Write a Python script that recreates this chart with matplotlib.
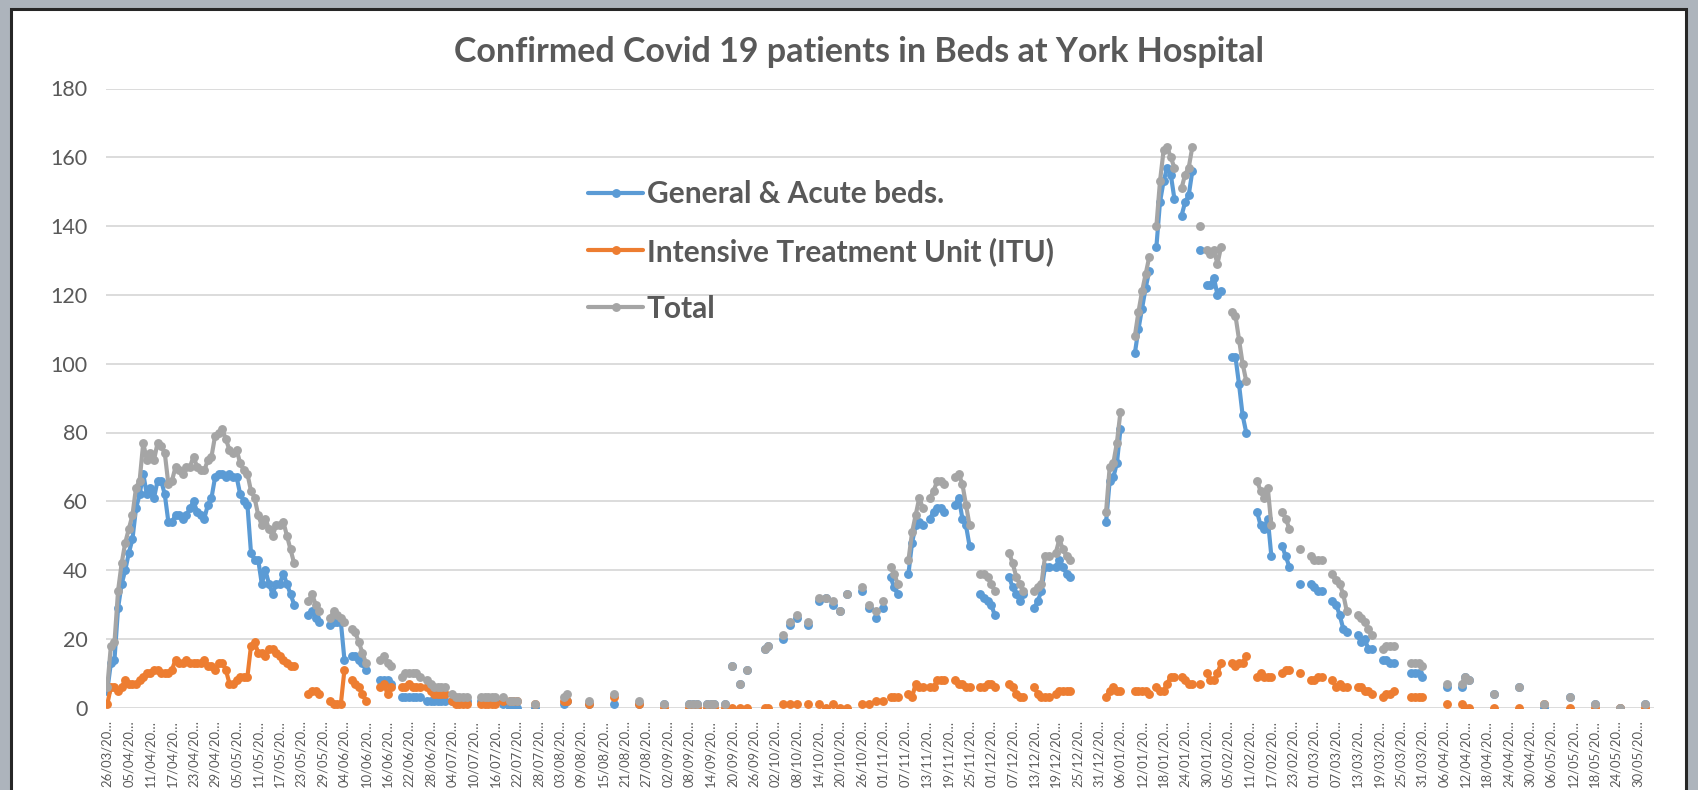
import datetime as dt

import numpy as np
import matplotlib
matplotlib.use("Agg")
import matplotlib.pyplot as plt
from matplotlib.patches import Rectangle

# categories: first row is 26/03/2020, then one row per day from 31/03/2020
N_ROWS = 431
first_row = dt.date(2020, 3, 26)
daily_start = dt.date(2020, 3, 31)

# runs of consecutive readings: (row index, values)
general_runs = [
    (0, [5, 13, 14, 29, 36, 40, 45, 49, 58, 62, 68, 62, 64, 61, 66, 66, 62, 54, 54, 56,
         56, 55, 56, 58, 60, 57, 56, 55, 59, 61, 67, 68, 68, 67, 68, 67, 67, 62, 60, 59,
         45, 43, 43, 36, 40, 36, 33, 36, 36, 39, 36, 33, 30]),
    (56, [27, 28, 26, 25]), (62, [24, 25, 25, 25, 14]), (68, [15, 15, 14, 13, 11]),
    (76, [8, 8, 8, 7]), (82, [3, 3, 3, 3, 3, 3]), (89, [2, 2, 2, 2, 2, 2]),
    (96, [2, 2, 2, 2, 2]), (104, [2, 2, 2, 2, 2]), (110, [1]), (112, [0, 0, 0]),
    (119, [0]), (127, [1, 2]), (134, [1]), (141, [1]), (148, [1]), (155, [1]),
    (162, [1, 1, 1]), (167, [1, 1, 1]), (172, [1]), (174, [12]), (176, [7]), (178, [11]),
    (183, [17, 18]), (188, [20]), (190, [24]), (192, [26]), (195, [24]), (198, [31]),
    (200, [32]), (202, [30]), (204, [28]), (206, [33]), (210, [34]), (212, [29]),
    (214, [26]), (216, [29]),
    (218, [38, 35, 33]), (223, [39, 48, 53, 54, 53]), (229, [55, 57, 58, 58, 57]),
    (236, [59, 61, 55, 53, 47]), (243, [33, 32, 31, 30, 27]), (251, [38, 35, 33, 31, 33]),
    (258, [29, 31, 34, 41, 41]), (264, [41, 43, 41, 39, 38]),
    (278, [54, 66, 67, 71, 81]), (286, [103, 110, 116, 122, 127]),
    (292, [134, 147, 153, 157, 155, 148]), (299, [143, 147, 149, 156]), (304, [133]),
    (306, [123, 123, 125, 120, 121]), (313, [102, 102, 94, 85, 80]),
    (320, [57, 53, 52, 55, 44]), (327, [47, 44, 41]), (332, [36]), (335, [36, 35, 34, 34]),
    (341, [31, 30, 27, 23, 22]), (348, [21, 19, 20, 17, 17]), (355, [14, 14, 13, 13]),
    (363, [10, 10, 10, 9]), (373, [6]), (377, [6, 9, 8]), (386, [4]), (393, [6]),
    (400, [0]), (407, [3]), (414, [1]), (421, [0]), (428, [1]),
]

itu_runs = [
    (0, [1, 6, 6, 5, 6, 8, 7, 7, 7, 8, 9, 10, 10, 11, 11, 10, 10, 10, 11, 14,
         13, 13, 14, 13, 13, 13, 13, 14, 12, 12, 11, 13, 13, 11, 7, 7, 8, 9, 9, 9,
         18, 19, 16, 16, 15, 17, 17, 16, 15, 14, 13, 12, 12]),
    (56, [4, 5, 5, 4]), (62, [2, 1, 1, 1, 11]), (68, [8, 7, 6, 4, 2]),
    (76, [6, 7, 4, 6]), (82, [6, 6, 7, 6, 6, 6]), (89, [6, 5, 4, 4, 4, 4]),
    (96, [2, 1, 1, 1, 1]), (104, [1, 1, 1, 1, 1]), (110, [2]), (112, [2, 2, 2]),
    (119, [1]), (127, [2, 2]), (134, [1]), (141, [3]), (148, [1]), (155, [0]),
    (162, [0, 0, 0]), (167, [0, 0, 0]), (172, [0]), (174, [0]), (176, [0]), (178, [0]),
    (183, [0, 0]), (188, [1]), (190, [1]), (192, [1]), (195, [1]), (198, [1]),
    (200, [0]), (202, [1]), (204, [0]), (206, [0]), (210, [1]), (212, [1]),
    (214, [2]), (216, [2]),
    (218, [3, 3, 3]), (223, [4, 3, 7, 6, 6]), (229, [6, 6, 8, 8, 8]),
    (236, [8, 7, 7, 6, 6]), (243, [6, 6, 7, 7, 6]), (251, [7, 6, 4, 3, 3]),
    (258, [6, 4, 3, 3, 3]), (264, [4, 5, 5, 5, 5]),
    (278, [3, 5, 6, 5, 5]), (286, [5, 5, 5, 5, 4]),
    (292, [6, 5, 5, 7, 9, 9]), (299, [9, 8, 7, 7]), (304, [7]),
    (306, [10, 8, 8, 10, 13]), (313, [13, 12, 13, 13, 15]),
    (320, [9, 10, 9, 9, 9]), (327, [10, 11, 11]), (332, [10]), (335, [8, 8, 9, 9]),
    (341, [8, 6, 7, 6, 6]), (348, [6, 6, 5, 5, 4]), (355, [3, 4, 4, 5]),
    (363, [3, 3, 3, 3]), (373, [1]), (377, [1, 0, 0]), (386, [0]), (393, [0]),
    (400, [1]), (407, [0]), (414, [0]), (421, [0]), (428, [0]),
]

total_runs = [
    (0, [6, 18, 19, 34, 42, 48, 52, 56, 64, 66, 77, 72, 74, 72, 77, 76, 74, 65, 66, 70,
         69, 68, 70, 70, 73, 70, 69, 69, 72, 73, 79, 80, 81, 78, 75, 74, 75, 71, 69, 68,
         63, 61, 56, 53, 55, 52, 50, 53, 53, 54, 50, 46, 42]),
    (56, [31, 33, 30, 28]), (62, [26, 28, 27, 26, 25]), (68, [23, 22, 19, 16, 13]),
    (76, [14, 15, 13, 12]), (82, [9, 10, 10, 10, 10, 9]), (89, [8, 7, 6, 6, 6, 6]),
    (96, [4, 3, 3, 3, 3]), (104, [3, 3, 3, 3, 3]), (110, [3]), (112, [2, 2, 2]),
    (119, [1]), (127, [3, 4]), (134, [2]), (141, [4]), (148, [2]), (155, [1]),
    (162, [1, 1, 1]), (167, [1, 1, 1]), (172, [1]), (174, [12]), (176, [7]), (178, [11]),
    (183, [17, 18]), (188, [21]), (190, [25]), (192, [27]), (195, [25]), (198, [32]),
    (200, [32]), (202, [31]), (204, [28]), (206, [33]), (210, [35]), (212, [30]),
    (214, [28]), (216, [31]),
    (218, [41, 39, 36]), (223, [43, 51, 56, 61, 58]), (229, [61, 63, 66, 66, 65]),
    (236, [67, 68, 65, 59, 53]), (243, [39, 39, 38, 36, 34]), (251, [45, 42, 38, 36, 34]),
    (258, [34, 35, 36, 44, 44]), (264, [45, 49, 46, 44, 43]),
    (278, [57, 70, 71, 77, 86]), (286, [108, 115, 121, 126, 131]),
    (292, [140, 153, 162, 163, 160, 157]), (299, [151, 155, 157, 163]), (304, [140]),
    (306, [133, 132, 133, 129, 134]), (313, [115, 114, 107, 100, 95]),
    (320, [66, 63, 61, 64, 53]), (327, [57, 55, 52]), (332, [46]), (335, [44, 43, 43, 43]),
    (341, [39, 37, 36, 33, 28]), (348, [27, 26, 25, 23, 21]), (355, [17, 18, 18, 18]),
    (363, [13, 13, 13, 12]), (373, [7]), (377, [7, 9, 8]), (386, [4]), (393, [6]),
    (400, [1]), (407, [3]), (414, [1]), (421, [0]), (428, [1]),
]

series_names = ['General & Acute beds.', 'Intensive Treatment Unit (ITU)', 'Total']
series_colors = ['#5b9bd5', '#ed7d31', '#a5a5a5']

W, H = 1698, 790
TEXT = '#595959'
FONT = 'Lato'


def expand(runs):
    """Turn (start, values) runs into one array with NaN for missing rows"""
    arr = np.full(N_ROWS, np.nan)
    for start, vals in runs:
        arr[start:start + len(vals)] = vals
    return arr


def row_labels():
    days = [first_row] + [daily_start + dt.timedelta(days=k) for k in range(N_ROWS - 1)]
    return [d.strftime('%d/%m/%Y')[:8] + '\u2026' for d in days]


def main():
    x = np.arange(N_ROWS)
    series = [expand(general_runs), expand(itu_runs), expand(total_runs)]
    labels = row_labels()

    fig = plt.figure(figsize=(W / 100, H / 100), dpi=100, facecolor='#adb4bc')
    # white chart area with dark frame, kept behind the axes
    fig.add_artist(Rectangle((11 / W, -0.01), 1675 / W, 1.01 - 9 / H, transform=fig.transFigure,
                             facecolor='white', edgecolor='#262626', linewidth=2.2,
                             zorder=-10))

    left, right, top, bottom = 105.5, 1654, 88.5, 707.7
    ax = fig.add_axes([left / W, 1 - bottom / H, (right - left) / W, (bottom - top) / H])
    ax.patch.set_alpha(0)

    handles = []
    for vals, name, color in zip(series, series_names, series_colors):
        h, = ax.plot(x, vals, color=color, lw=3.0, marker='o', ms=6.4,
                     markeredgewidth=0, label=name, solid_capstyle='round',
                     solid_joinstyle='round')
        handles.append(h)

    ax.set_xlim(-0.5, N_ROWS - 0.5)
    ax.set_ylim(0, 180)
    ax.set_yticks(range(0, 181, 20))
    ax.grid(axis='y', color='#d9d9d9', lw=1.3)
    ax.set_axisbelow(True)
    for s in ax.spines.values():
        s.set_visible(False)

    ticks = list(range(0, N_ROWS, 6))
    ax.set_xticks(ticks)
    ax.set_xticklabels([labels[t] for t in ticks], rotation=90, fontsize=9.4,
                       color=TEXT, family=FONT)
    ax.set_yticklabels([str(v) for v in range(0, 181, 20)], family=FONT)
    ax.tick_params(axis='x', length=0, pad=9)
    ax.tick_params(axis='y', length=0, pad=13, labelsize=15.5, labelcolor=TEXT)

    fig.text(859 / W, 1 - 52 / H, 'Confirmed Covid 19 patients in Beds at York Hospital',
             ha='center', va='center', fontsize=24.5, fontweight='bold', color=TEXT,
             family=FONT)

    ax.legend(handles=handles, loc='upper left', bbox_to_anchor=(588 / W, 1 - 180 / H),
              bbox_transform=fig.transFigure, frameon=False, handlelength=1.85,
              handletextpad=0.12, labelspacing=0.97, borderpad=0, borderaxespad=0,
              prop={'family': FONT, 'weight': 'bold', 'size': 21.5}, labelcolor=TEXT,
              numpoints=1)

    fig.savefig('out.png', dpi=100, facecolor=fig.get_facecolor())


if __name__ == '__main__':
    main()
